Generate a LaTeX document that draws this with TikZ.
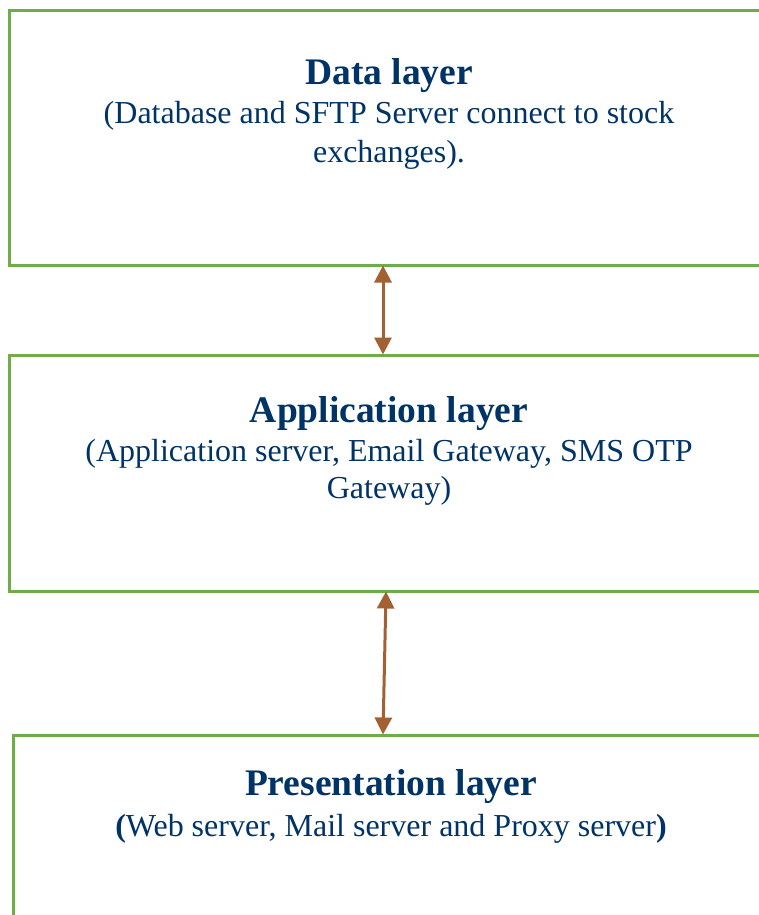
\documentclass[tikz,border=0pt]{standalone}
\usepackage{fontspec}
\setmainfont{Liberation Serif}
\usetikzlibrary{arrows.meta}
\definecolor{boxgreen}{RGB}{112,173,71}
\definecolor{arrowbrown}{RGB}{163,96,48}
\definecolor{textnavy}{RGB}{0,51,102}
\tikzset{
  layerbox/.style={draw=boxgreen, line width=3pt, rectangle, inner sep=0pt},
  titletext/.style={anchor=base, text=textnavy, inner sep=0pt, font=\fontsize{37.5}{45}\selectfont\bfseries},
  subtext/.style={anchor=base, text=textnavy, inner sep=0pt, font=\fontsize{32}{38}\selectfont},
  link/.style={draw=arrowbrown, line width=3pt, {Triangle[width=17pt,length=17pt]}-{Triangle[width=17pt,length=17pt]}, shorten <=-1pt, shorten >=-1pt}
}
\begin{document}
\begin{tikzpicture}[x=1pt,y=-1pt]
\useasboundingbox (0,0) rectangle (759,915);
\clip (0,0) rectangle (759,915);
\fill[white] (0,0) rectangle (759,915);
% boxes
\node[layerbox, minimum width=760pt, minimum height=254pt] (data) at (389,138) {};
\node[layerbox, minimum width=760pt, minimum height=236pt] (app) at (389,473) {};
\node[layerbox, minimum width=756pt, minimum height=265pt] (pres) at (391,867.5) {};
% texts
\node[titletext] (datat) at (389,85) {Data layer};
\node[subtext] (datas1) at (389,124) {(Database and SFTP Server connect to stock};
\node[subtext] (datas2) at (389,162) {exchanges).};
\node[titletext] (appt) at (389,422) {Application layer};
\node[subtext] (apps1) at (389,461) {(Application server, Email Gateway, SMS OTP};
\node[subtext] (apps2) at (389,498) {Gateway)};
\node[titletext] (prest) at (391,795) {Presentation layer};
\node[subtext] (press) at (391,836) {\textbf{(}Web server, Mail server and Proxy server\textbf{)}};
% connectors
\coordinate (a1) at (383,0);
\coordinate (a2top) at (386,0);
\coordinate (a2bot) at (383,0);
\draw[link] (a1 |- data.south) -- (a1 |- app.north);
\draw[link] (a2top |- app.south) -- (a2bot |- pres.north);
\end{tikzpicture}
\end{document}
